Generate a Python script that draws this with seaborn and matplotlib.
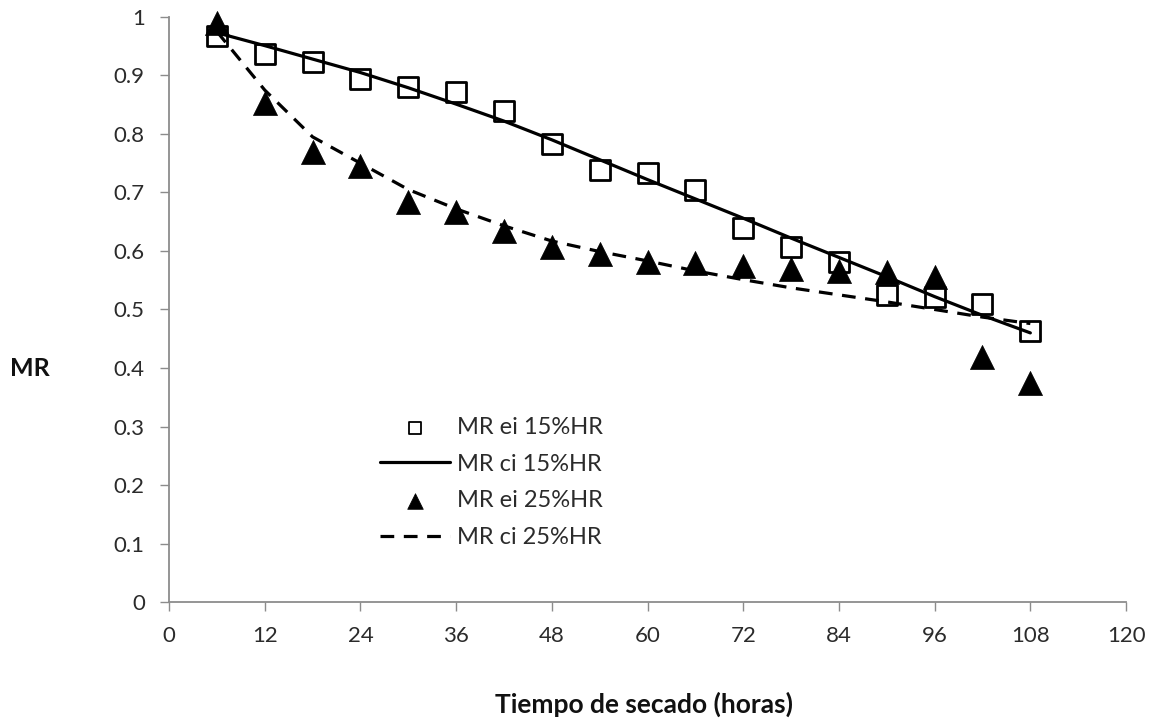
import matplotlib
matplotlib.use("Agg")
import matplotlib.pyplot as plt
import seaborn as sns
import pandas as pd

# Drying time (hours)
horas = [6, 12, 18, 24, 30, 36, 42, 48, 54, 60, 66, 72, 78, 84, 90, 96, 102, 108]

# Experimental moisture ratio
mr_ei_15 = [0.967, 0.937, 0.923, 0.894, 0.880, 0.872, 0.840, 0.783, 0.738, 0.733,
            0.704, 0.640, 0.607, 0.581, 0.524, 0.522, 0.510, 0.464]
mr_ei_25 = [0.990, 0.853, 0.769, 0.745, 0.684, 0.666, 0.634, 0.606, 0.594, 0.582,
            0.580, 0.574, 0.569, 0.566, 0.564, 0.555, 0.419, 0.375]

# Calculated (model) moisture ratio
mr_ci_15 = [0.973, 0.951, 0.928, 0.905, 0.879, 0.851, 0.822, 0.790, 0.756, 0.722,
            0.689, 0.656, 0.622, 0.589, 0.556, 0.522, 0.490, 0.460]
mr_ci_25 = [0.975, 0.875, 0.795, 0.750, 0.705, 0.672, 0.643, 0.617, 0.599, 0.583,
            0.566, 0.551, 0.537, 0.525, 0.513, 0.500, 0.487, 0.476]

df = pd.DataFrame({
    "horas": horas,
    "ei15": mr_ei_15, "ci15": mr_ci_15,
    "ei25": mr_ei_25, "ci25": mr_ci_25,
})

sns.set_theme(style="white")
plt.rcParams["font.family"] = ["Lato", "DejaVu Sans"]

fig = plt.figure(figsize=(11.58, 7.19), dpi=100)
ax = fig.add_axes([0.146, 0.1627, 0.8264, 0.8137])

sns.scatterplot(data=df, x="horas", y="ei15", marker="s", s=190,
                facecolor="white", edgecolor="black", linewidth=2.0,
                label="MR ei 15%HR", ax=ax, clip_on=False, zorder=3)
sns.lineplot(data=df, x="horas", y="ci15", color="black", linewidth=2.3,
             label="MR ci 15%HR", ax=ax, zorder=4)
sns.scatterplot(data=df, x="horas", y="ei25", marker="^", s=300,
                color="black", edgecolor="black", linewidth=0.5,
                label="MR ei 25%HR", ax=ax, clip_on=False, zorder=5)
sns.lineplot(data=df, x="horas", y="ci25", color="black", linewidth=2.3,
             linestyle=(0, (4.3, 3.0)), label="MR ci 25%HR", ax=ax, zorder=6)

ax.set_xlim(0, 120)
ax.set_ylim(0, 1)
ax.set_xticks(range(0, 121, 12))
ax.set_yticks([i / 10 for i in range(11)])
ax.set_yticklabels(["0", "0.1", "0.2", "0.3", "0.4", "0.5", "0.6", "0.7", "0.8", "0.9", "1"])

axis_gray = "#8c8c8c"
for side in ("top", "right"):
    ax.spines[side].set_visible(False)
for side in ("left", "bottom"):
    ax.spines[side].set_color(axis_gray)
    ax.spines[side].set_linewidth(1.3)
ax.tick_params(axis="both", direction="out", length=6.5, width=1.0,
               color=axis_gray, labelsize=16, labelcolor="#2b2b2b", pad=11)
ax.tick_params(axis="x", bottom=True)
ax.tick_params(axis="y", left=True)

ax.set_xlabel("")
ax.set_ylabel("")
fig.text(0.009, 0.488, "MR", fontsize=18, fontweight="bold", color="#111111",
         ha="left", va="center")
fig.text(0.556, 0.021, "Tiempo de secado (horas)", fontsize=19, fontweight="bold",
         color="#111111", ha="center", va="center")

leg = ax.legend(loc="upper left", bbox_to_anchor=(0.2205, 0.316), frameon=False,
                fontsize=17, markerscale=0.65, handlelength=2.95,
                handletextpad=0.32, labelspacing=0.66, borderpad=0,
                borderaxespad=0)
for t in leg.get_texts():
    t.set_color("#2b2b2b")
leg.legend_handles[0].set_linewidth(1.3)

fig.savefig("out.png", dpi=100, facecolor="white")
